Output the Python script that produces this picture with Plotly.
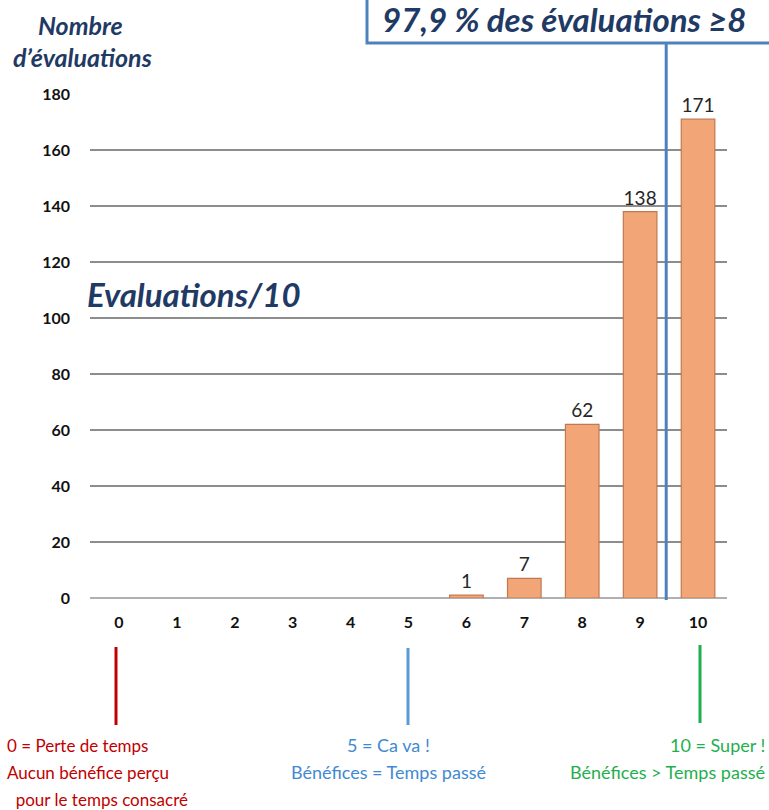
import plotly.graph_objects as go

# Score scale and number of evaluations per score
scores = [0, 1, 2, 3, 4, 5, 6, 7, 8, 9, 10]
counts = [0, 0, 0, 0, 0, 0, 1, 7, 62, 138, 171]
y_ticks = [0, 20, 40, 60, 80, 100, 120, 140, 160, 180]

headline = "97,9 % des évaluations ≥8"
chart_title = "Evaluations/10"
y_title_lines = ["Nombre", "d’évaluations"]

legend_red = ["0 = Perte de temps", "Aucun bénéfice perçu", "  pour le temps consacré"]
legend_blue = ["5 = Ca va !", "Bénéfices = Temps passé"]
legend_green = ["10 = Super !", "Bénéfices > Temps passé"]

W, H = 769, 810
L, R, T, B = 90, 42, 94, 212
PW, PH = W - L - R, H - T - B


def px(x):
    return (x - L) / PW


def py(y):
    return (H - B - y) / PH


NAVY = "#1F3A64"
RED = "#C00000"
BLUE = "#3F8AD2"
GREEN = "#1FAF4E"
LINE_BLUE = "#4F81BD"

fig = go.Figure()
fig.add_trace(go.Bar(
    x=scores,
    y=counts,
    width=0.58,
    marker=dict(color="#F2A677",
                line=dict(color="#C07A52", width=[1.2 if c > 0 else 0 for c in counts])),
    text=[str(c) if c > 0 else "" for c in counts],
    textposition="outside",
    textfont=dict(family="Lato", size=19, color="#262626"),
    cliponaxis=False,
    hoverinfo="x+y",
))

fig.update_layout(
    width=W, height=H,
    margin=dict(l=L, r=R, t=T, b=B, autoexpand=False),
    paper_bgcolor="white", plot_bgcolor="white",
    showlegend=False,
    xaxis=dict(
        range=[-0.5, 10.5], tickmode="array", tickvals=scores,
        ticktext=[str(s) for s in scores],
        tickfont=dict(family="Lato", size=16, color="#111111", weight="bold"),
        showgrid=False, zeroline=False, showline=False, ticks="",
        ticklabelstandoff=13, fixedrange=True,
    ),
    yaxis=dict(
        range=[0, 180], tickmode="array", tickvals=y_ticks,
        tickfont=dict(family="Lato", size=16, color="#111111", weight="bold"),
        showgrid=True, gridcolor="#8C8C8C", gridwidth=1.6,
        zeroline=True, zerolinecolor="#B0B0B0", zerolinewidth=1.6,
        showline=False, ticks="", ticklabelstandoff=19, fixedrange=True,
    ),
)


def note(text, x, y, size, color, xanchor="center", align="center"):
    fig.add_annotation(text=text, xref="paper", yref="paper",
                       x=px(x), y=py(y), xanchor=xanchor, yanchor="middle",
                       align=align, showarrow=False,
                       font=dict(family="Lato", size=size, color=color))


# Headline box with its connector down between scores 9 and 10
fig.add_shape(type="rect", xref="paper", yref="paper",
              x0=px(367), x1=px(790), y0=py(43), y1=py(-20),
              line=dict(color=LINE_BLUE, width=3), fillcolor="rgba(0,0,0,0)")
fig.add_shape(type="line", xref="x", yref="paper",
              x0=9.45, x1=9.45, y0=py(600), y1=py(43),
              line=dict(color=LINE_BLUE, width=3))
note(f"<b><i>{headline}</i></b>", 380, 19, 33, NAVY, xanchor="left")

# Chart title and axis title
note(f"<b><i>{chart_title}</i></b>", 85, 294, 33, NAVY, xanchor="left")
note("<b><i>" + y_title_lines[0] + "</i></b>", 80, 25, 25, NAVY)
note("<b><i>" + y_title_lines[1] + "</i></b>", 82, 57, 25, NAVY)

# Scale legend markers below the axis
for xpix, y0, y1, col in [(116, 647, 725, RED), (408, 648, 725, "#5B9BD5"), (700, 645, 723, GREEN)]:
    fig.add_shape(type="line", xref="paper", yref="paper",
                  x0=px(xpix), x1=px(xpix), y0=py(y1), y1=py(y0),
                  line=dict(color=col, width=3))

for i, line in enumerate(legend_red):
    note(line, 5, 745 + 27 * i, 17, RED, xanchor="left")
for i, line in enumerate(legend_blue):
    note(line, 388, 745 + 27 * i, 18, BLUE)
for i, line in enumerate(legend_green):
    note(line, 767, 745 + 27 * i, 18, GREEN, xanchor="right")

fig.write_html("out.html")
